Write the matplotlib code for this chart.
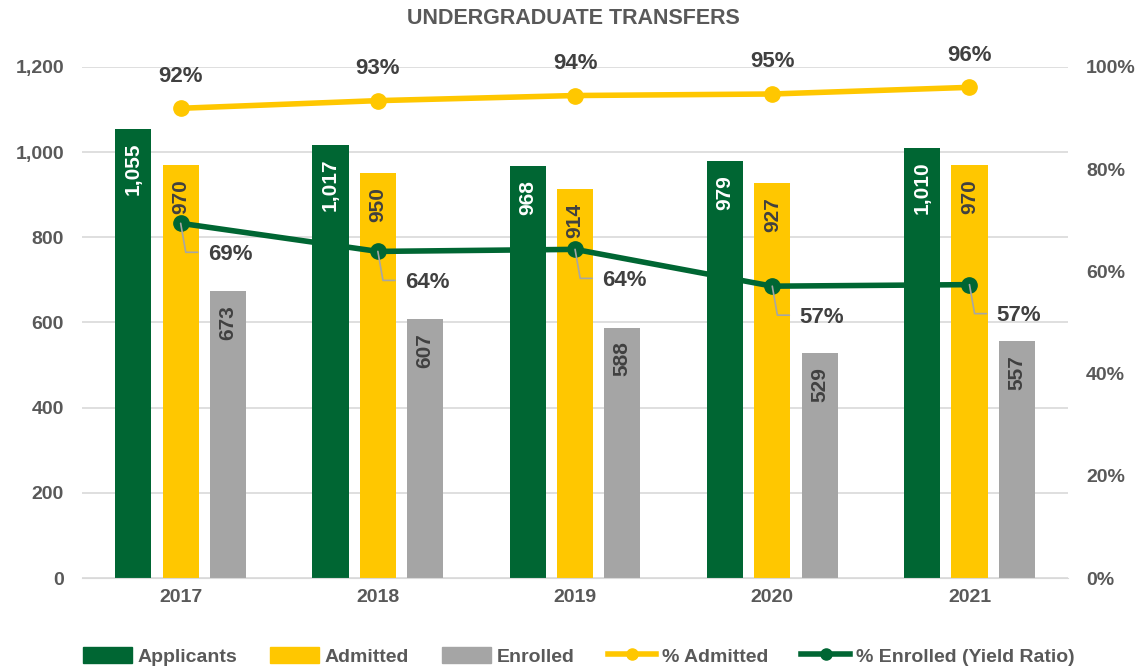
import matplotlib.pyplot as plt
from matplotlib.lines import Line2D
from matplotlib.patches import Patch
import numpy as np

plt.rcParams['font.family'] = ['Liberation Sans', 'DejaVu Sans']
plt.rcParams['font.weight'] = 'bold'

years = ["2017", "2018", "2019", "2020", "2021"]
applicants = [1055, 1017, 968, 979, 1010]
admitted = [970, 950, 914, 927, 970]
enrolled = [673, 607, 588, 529, 557]
pct_admitted = [0.919, 0.934, 0.944, 0.947, 0.960]
pct_enrolled = [0.694, 0.639, 0.643, 0.571, 0.574]
pct_admitted_labels = ["92%", "93%", "94%", "95%", "96%"]
pct_enrolled_labels = ["69%", "64%", "64%", "57%", "57%"]

GREEN = "#006633"
YELLOW = "#FFC700"
GRAY = "#A5A5A5"
TXT = "#404040"
TICK = "#595959"

fig = plt.figure(figsize=(11.46, 6.69), dpi=100)
ax = fig.add_axes([0.0716, 0.136, 0.8604, 0.764])
ax2 = ax.twinx()

x = np.arange(len(years))
w = 0.183
off = 0.24

b1 = ax.bar(x - off, applicants, w, color=GREEN, zorder=2)
b2 = ax.bar(x, admitted, w, color=YELLOW, zorder=2)
b3 = ax.bar(x + off, enrolled, w, color=GRAY, zorder=2)

# value labels inside the top of each bar, rotated
for bars, vals, col in [(b1, applicants, "white"), (b2, admitted, TXT), (b3, enrolled, TXT)]:
    for r, v in zip(bars, vals):
        ax.annotate(f"{v:,}", (r.get_x() + r.get_width() / 2, v), xytext=(0, -14),
                    textcoords="offset pixels", rotation=90, ha="center", va="top",
                    color=col, fontsize=15, fontweight="bold", zorder=3)

ax.set_xlim(-0.5, 4.5)
ax.set_ylim(0, 1200)
ax.set_yticks(range(0, 1201, 200))
ax.set_yticklabels([f"{v:,}" for v in range(0, 1201, 200)])
ax.set_xticks(x)
ax.set_xticklabels(years)
ax.grid(axis="y", color="#D9D9D9", lw=1.2, zorder=0)
ax.set_axisbelow(True)

ax2.set_ylim(0, 1.0)
ax2.set_yticks(np.arange(0, 1.01, 0.2))
ax2.set_yticklabels([f"{int(round(v * 100))}%" for v in np.arange(0, 1.01, 0.2)])

for a in (ax, ax2):
    for s in a.spines.values():
        s.set_visible(False)
    a.tick_params(length=0, labelsize=14, labelcolor=TICK)
ax.spines["bottom"].set_visible(True)
ax.spines["bottom"].set_color("#D9D9D9")
ax.tick_params(axis="y", pad=13)
ax.tick_params(axis="x", pad=8)
ax2.tick_params(axis="y", pad=13)

ax2.plot(x, pct_admitted, color=YELLOW, lw=4, marker="o", ms=11, zorder=4)
ax2.plot(x, pct_enrolled, color=GREEN, lw=4, marker="o", ms=11, zorder=4)

for xi, v, lab in zip(x, pct_admitted, pct_admitted_labels):
    ax2.annotate(lab, (xi, v), xytext=(0, 32), textcoords="offset pixels",
                 ha="center", va="center", color=TXT, fontsize=16, fontweight="bold")

# leader lines + labels for the yield ratio
for xi, v, lab in zip(x, pct_enrolled, pct_enrolled_labels):
    ax2.annotate("", (xi, v), xytext=(17, -29), textcoords="offset pixels",
                 arrowprops=dict(arrowstyle="-", color="#A6A6A6", lw=1.2,
                                 shrinkA=0, shrinkB=0,
                                 connectionstyle="angle,angleA=0,angleB=100,rad=0"),
                 zorder=5)
    ax2.annotate(lab, (xi, v), xytext=(27, -31), textcoords="offset pixels",
                 ha="left", va="center", color=TXT, fontsize=16, fontweight="bold")

fig.text(0.5, 0.973, "UNDERGRADUATE TRANSFERS", ha="center", va="center",
         fontsize=15.5, fontweight="bold", color=TICK)

handles = [Patch(color=GREEN), Patch(color=YELLOW), Patch(color=GRAY),
           Line2D([], [], color=YELLOW, lw=4, marker="o", ms=8),
           Line2D([], [], color=GREEN, lw=4, marker="o", ms=8)]
labels = ["Applicants", "Admitted", "Enrolled", "% Admitted", "% Enrolled (Yield Ratio)"]
fig.legend(handles, labels, loc="center", bbox_to_anchor=(0.505, 0.019), ncol=5,
           frameon=False, fontsize=14, handlelength=2.5, handleheight=0.9,
           handletextpad=0.3, columnspacing=1.7, labelcolor=TICK)

fig.savefig("out.png", dpi=100)
